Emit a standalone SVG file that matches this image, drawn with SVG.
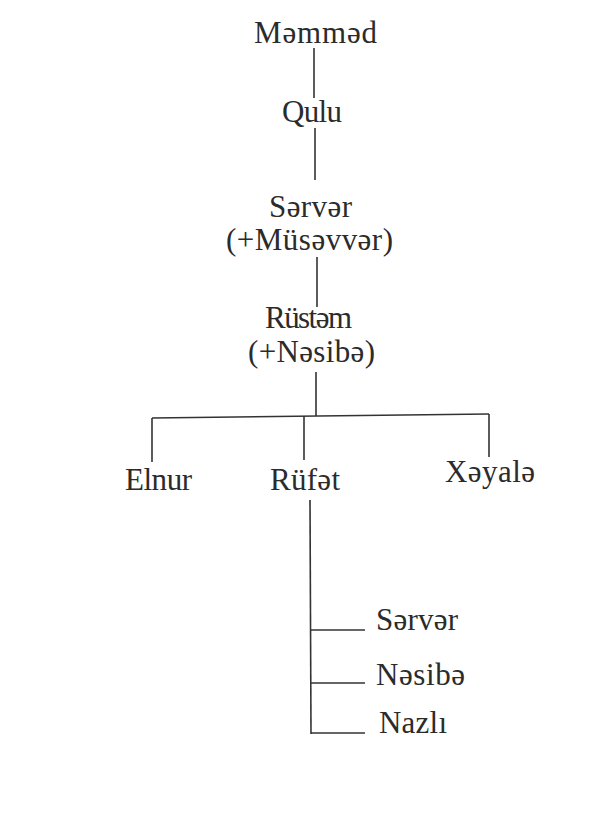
<svg xmlns="http://www.w3.org/2000/svg" width="600" height="823" viewBox="0 0 600 823">
<style>
.t{font-family:"Liberation Serif","DejaVu Serif","Times New Roman",serif;font-size:31px;fill:#2b2b2b}
.c line{stroke:#333;stroke-width:1.6;fill:none}
</style>
<rect width="600" height="823" fill="#fff"/>
<g class="c" id="connectors">
<line x1="314" y1="48" x2="314" y2="98"/>
<line x1="315" y1="128" x2="315" y2="180"/>
<line x1="317" y1="257" x2="317" y2="307"/>
<line x1="316" y1="372" x2="316" y2="416"/>
<line x1="152" y1="418" x2="489" y2="414"/>
<line x1="152" y1="418" x2="152" y2="462"/>
<line x1="304" y1="416" x2="304" y2="460"/>
<line x1="489" y1="414" x2="489" y2="457"/>
<line x1="310" y1="500" x2="311" y2="734"/>
<line x1="311" y1="630" x2="365" y2="630"/>
<line x1="311" y1="683" x2="365" y2="683"/>
<line x1="311" y1="733" x2="365" y2="733"/>
</g>
<g id="n-memmed"><text class="t" x="254" y="43" textLength="123">Məmməd</text></g>
<g id="n-qulu"><text class="t" x="282" y="122" textLength="60">Qulu</text></g>
<g id="n-server"><text class="t" x="269" y="217" textLength="83">Sərvər</text><text class="t" x="226" y="250" textLength="167">(+Müsəvvər)</text></g>
<g id="n-rustem"><text class="t" x="265" y="328" textLength="87">Rüstəm</text><text class="t" x="248" y="362" textLength="127">(+Nəsibə)</text></g>
<g id="n-elnur"><text class="t" x="125" y="490" textLength="67">Elnur</text></g>
<g id="n-rufet"><text class="t" x="270" y="490" textLength="70">Rüfət</text></g>
<g id="n-xeyale"><text class="t" x="445" y="482" textLength="90">Xəyalə</text></g>
<g id="n-server2"><text class="t" x="376" y="630" textLength="82">Sərvər</text></g>
<g id="n-nesibe"><text class="t" x="376" y="685" textLength="89">Nəsibə</text></g>
<g id="n-nazli"><text class="t" x="379" y="733" textLength="68">Nazlı</text></g>
</svg>
